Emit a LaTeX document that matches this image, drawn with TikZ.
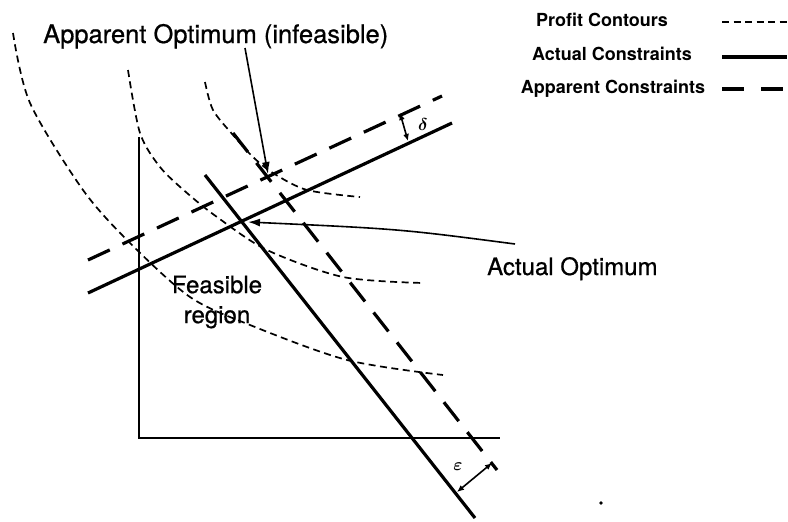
\documentclass[tikz,border=0pt]{standalone}
\usepackage{fontspec}
\setmainfont{TeX Gyre Heros}
\newfontfamily\scanfont{TeX Gyre Heros}[FakeBold=0.7]
\usetikzlibrary{arrows.meta}
\begin{document}
\begin{tikzpicture}[x=1pt,y=-1pt,
        contour/.style={black, line width=1.7pt, dash pattern=on 7pt off 4.5pt},
        actual/.style={black, line width=3.2pt},
        apparent/.style={black, line width=3.2pt, dash pattern=on 24pt off 14pt},
        axis/.style={black, line width=1.8pt},
        pointer/.style={black, line width=1.6pt, -{Latex[length=12pt,width=8pt]}},
        gap/.style={black, line width=1.6pt,
            {Latex[length=7pt,width=6pt]}-{Latex[length=7pt,width=6pt]}},
        label/.style={font=\scanfont\fontsize{24}{30}\selectfont, inner sep=0pt},
        greek/.style={font={\fontsize{18}{18}\selectfont\boldmath}, inner sep=0pt},
        key/.style={font=\bfseries\fontsize{18}{20}\selectfont, inner sep=0pt}]
    \useasboundingbox (0,0) rectangle (788,522);

    % Axes.
    \coordinate (ytop) at (139,137);
    \coordinate (origin) at (139,438);
    \coordinate (xend) at (500,438);
    \draw[axis] (ytop) -- (origin) -- (xend);

    % Profit contours.
    \draw[contour] plot[smooth] coordinates
        {(13,33) (30,103) (83,190) (130,243) (190,297) (250,325) (347,360) (443,375)};
    \draw[contour] plot[smooth] coordinates
        {(128,70) (140,133) (160,167) (187,193) (217,217) (267,250) (343,277) (423,283)};
    \draw[contour] plot[smooth] coordinates
        {(205,82) (213,110) (233,135) (253,157) (273,173) (307,190) (360,197)};

    % The constraints, actual and apparent.
    \coordinate (actA1) at (88,293);  \coordinate (actA2) at (452,123);
    \coordinate (actB1) at (205,175); \coordinate (actB2) at (475,518);
    \coordinate (appA1) at (88,260);  \coordinate (appA2) at (442,96);
    \coordinate (appB1) at (233,133); \coordinate (appB2) at (497,470);
    \draw[actual] (actA1) -- (actA2);
    \draw[actual] (actB1) -- (actB2);
    \draw[apparent] (appA1) -- (appA2);
    \draw[apparent] (appB1) -- (appB2);

    % The two offsets.
    \coordinate (d1) at (400,113); \coordinate (d2) at (408,141);
    \draw[gap] (d1) -- (d2);
    \node[greek] (delta) at (423,124) {$\delta$};
    \coordinate (e1) at (457,492); \coordinate (e2) at (492,463);
    \draw[gap] (e1) -- (e2);
    \node[greek] (eps) at (458,467) {$\varepsilon$};

    % Labels and pointers.
    \node[label, font=\scanfont\fontsize{25.5}{30}\selectfont, anchor=base west] (appopt)
        at (43,43) {Apparent Optimum (infeasible)};
    \node[label, anchor=base west] (actopt) at (487,275) {Actual Optimum};
    \node[label, align=center] (feasible) at (217,302) {Feasible\\region};
    \coordinate (appfoot) at (245,48);
    \coordinate (apppt) at (268,174);
    \draw[pointer] (appfoot) -- (apppt);
    \coordinate (actfoot) at (515,244);
    \coordinate (actpt) at (248,222);
    \draw[pointer] (actfoot) .. controls (400,229) .. (actpt);

    % Legend.
    \node[key, anchor=base] (k1) at (602,26) {Profit Contours};
    \node[key, anchor=base] (k2) at (612,60) {Actual Constraints};
    \node[key, anchor=base] (k3) at (613,93) {Apparent Constraints};
    \coordinate (k1a) at (722,22); \coordinate (k1b) at (787,22);
    \coordinate (k2a) at (722,57); \coordinate (k2b) at (787,57);
    \coordinate (k3a) at (722,89); \coordinate (k3b) at (787,89);
    \draw[contour] (k1a) -- (k1b);
    \draw[actual] (k2a) -- (k2b);
    \draw[apparent, dash pattern=on 22pt off 17pt] (k3a) -- (k3b);

    % Speck.
    \fill (601,503) circle[radius=1.8];
\end{tikzpicture}
\end{document}
